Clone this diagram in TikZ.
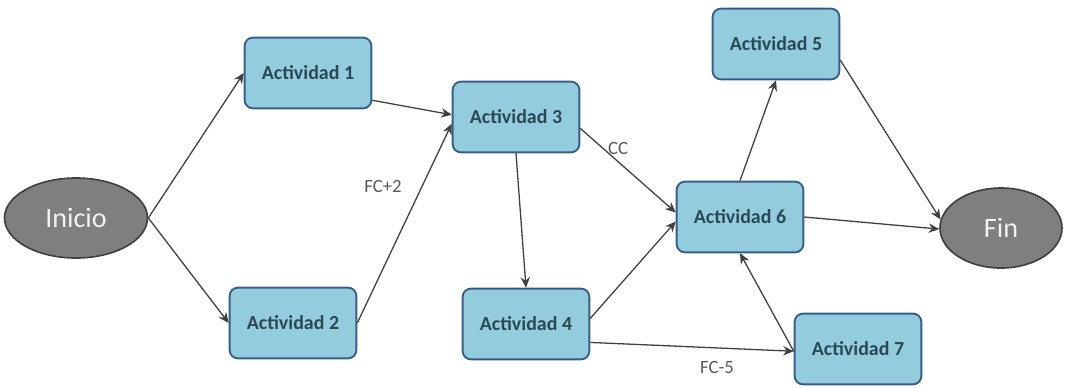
\documentclass[tikz,border=0pt]{standalone}
\usepackage{fontspec}
\setmainfont{Carlito}
\usetikzlibrary{shapes.geometric,arrows.meta}

\definecolor{boxfill}{RGB}{147,205,221}
\definecolor{boxline}{RGB}{56,93,138}
\definecolor{boxtext}{RGB}{42,72,86}
\definecolor{evfill}{RGB}{127,127,127}
\definecolor{evline}{RGB}{64,64,64}
\definecolor{evtext}{RGB}{242,242,242}
\definecolor{edgecol}{RGB}{64,64,64}
\definecolor{lblcol}{RGB}{89,89,89}

\tikzset{
  actbox/.style={draw=boxline, fill=boxfill, line width=1.6pt, rounded corners=7pt,
    minimum width=3.8cm, minimum height=2.12cm, inner sep=0pt,
    text=boxtext, font=\fontsize{17}{20}\selectfont\bfseries},
  event/.style={ellipse, draw=evline, fill=evfill, line width=1.4pt, inner sep=0pt,
    text=evtext, font=\fontsize{24}{28}\selectfont},
  link/.style={draw=edgecol, line width=1.1pt, -{Stealth[length=9pt,width=8pt,inset=3pt]}},
  lbl/.style={text=lblcol, font=\fontsize{16}{18}\selectfont, inner sep=0pt}
}

\begin{document}
\begin{tikzpicture}[x=0.03cm, y=-0.03cm]
  \useasboundingbox (0,0) rectangle (1073,387);

  % events
  \node[event, minimum width=4.29cm, minimum height=2.4cm] (ini) at (76,218) {Inicio};
  \node[event, minimum width=3.66cm, minimum height=2.4cm] (fin) at (1001,228) {Fin};

  % activities
  \node[actbox] (a1) at (308,73)  {Actividad 1};
  \node[actbox] (a2) at (293,323) {Actividad 2};
  \node[actbox] (a3) at (516,117) {Actividad 3};
  \node[actbox] (a4) at (526,324) {Actividad 4};
  \node[actbox] (a5) at (776,44)  {Actividad 5};
  \node[actbox] (a6) at (740,217) {Actividad 6};
  \node[actbox] (a7) at (858,349) {Actividad 7};

  % precedence links
  \draw[link] (ini.east) -- (a1.west);
  \draw[link] (ini.east) -- (a2.west);
  \draw[link] (a1.-23) -- (a3.178);
  \draw[link] (a2.east) -- (a3.186);
  \draw[link] (a3.south) -- (a4.north);
  \draw[link] (a3.-10) -- (a6.176);
  \draw[link] (a4.5) -- (a6.184);
  \draw[link] (a4.-16) -- (a7.182);
  \draw[link] (a6.north) -- (a5.south);
  \draw[link] (a5.-14) -- (fin.172);
  \draw[link] (a6.east) -- (fin.181);
  \draw[link] (a7.182) -- (a6.south);

  % lag labels
  \node[lbl] (l1) at (383,186) {FC+2};
  \node[lbl] (l2) at (618,148) {CC};
  \node[lbl] (l3) at (717,367) {FC-5};
\end{tikzpicture}
\end{document}
